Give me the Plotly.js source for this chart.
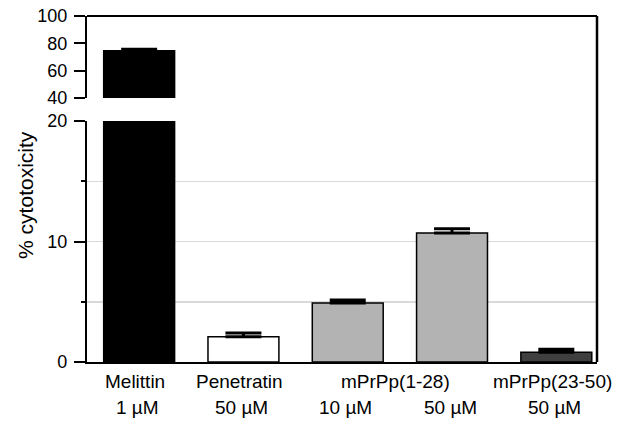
<!DOCTYPE html>
<html>
<head>
<meta charset="utf-8">
<script src="https://cdn.plot.ly/plotly-3.0.1.min.js"></script>
<style>
  html, body { margin: 0; padding: 0; background: #fff; }
  #chart { width: 638px; height: 427px; }
</style>
</head>
<body>
<div id="chart"></div>
<script>
// ---- data ----
var compounds = ['Melittin', 'Penetratin', 'mPrPp(1-28)', 'mPrPp(23-50)'];
var compoundBars = [[0], [1], [2, 3], [4]];
var concentrations = ['1 µM', '50 µM', '10 µM', '50 µM', '50 µM'];
var cytotoxicity = [74.5, 2.1, 4.9, 10.7, 0.8];
var errorUp = [1.2, 0.3, 0.25, 0.35, 0.25];
var barColors = ['#000000', '#ffffff', '#b3b3b3', '#b3b3b3', '#3f3f3f'];
var lowerTicks = [0, 10, 20];
var upperTicks = [40, 60, 80, 100];

var FONT = 'Arial, "Liberation Sans", sans-serif';
var xIdx = cytotoxicity.map(function (_, i) { return i; });
var zeros = cytotoxicity.map(function () { return 0; });

function barTrace(yaxis) {
  return {
    type: 'bar',
    x: xIdx,
    y: cytotoxicity,
    xaxis: 'x',
    yaxis: yaxis,
    width: 0.68,
    marker: { color: barColors, line: { color: '#000', width: 1.5 } },
    error_y: {
      type: 'data', symmetric: false, array: errorUp, arrayminus: zeros,
      color: '#000', thickness: 3, width: 18
    },
    hoverinfo: 'skip',
    showlegend: false
  };
}

var annotations = [];
compounds.forEach(function (name, k) {
  var idx = compoundBars[k];
  var xc = idx.reduce(function (a, b) { return a + b; }, 0) / idx.length;
  annotations.push({
    text: name, x: xc, xref: 'x', y: 0, yref: 'paper', yanchor: 'top',
    yshift: -7, xshift: -4, showarrow: false, font: { family: FONT, size: 19, color: '#000' }
  });
});
concentrations.forEach(function (c, i) {
  annotations.push({
    text: c, x: i, xref: 'x', y: 0, yref: 'paper', yanchor: 'top',
    yshift: -33, xshift: -2, showarrow: false, font: { family: FONT, size: 19, color: '#000' }
  });
});
annotations.push({
  text: '% cytotoxicity', textangle: -90, x: 0, xref: 'paper', xanchor: 'center', xshift: -61,
  y: 0.483, yref: 'paper', yanchor: 'middle', showarrow: false,
  font: { family: FONT, size: 21, color: '#000' }
});

var axisCommon = {
  showline: true, linecolor: '#000', linewidth: 2.2,
  ticks: 'outside', ticklen: 11, tickwidth: 2, tickcolor: '#000',
  ticklabelstandoff: 3,
  zeroline: false, tickfont: { family: FONT, size: 18, color: '#000' },
  anchor: 'x', fixedrange: true
};

var layout = {
  width: 638, height: 427,
  margin: { l: 87, r: 41, t: 16, b: 65 },
  paper_bgcolor: '#fff', plot_bgcolor: '#fff',
  bargap: 0,
  xaxis: {
    range: [-0.5, 4.39], showline: true, linecolor: '#000', linewidth: 2.2,
    showticklabels: false, ticks: '', showgrid: false, zeroline: false,
    anchor: 'y', fixedrange: true
  },
  yaxis: Object.assign({}, axisCommon, {
    domain: [0, 0.6965], range: [0, 20], tickvals: lowerTicks,
    showgrid: true, gridcolor: '#d9d9d9', gridwidth: 1.5,
    minor: { dtick: 5, ticks: 'outside', ticklen: 4, tickwidth: 2, tickcolor: '#000',
             showgrid: true, gridcolor: '#d9d9d9', gridwidth: 1.5 }
  }),
  yaxis2: Object.assign({}, axisCommon, {
    domain: [0.763, 1], range: [40, 100], tickvals: upperTicks, showgrid: false
  }),
  shapes: [
    { type: 'line', xref: 'paper', yref: 'paper', x0: 0, x1: 1, y0: 1, y1: 1,
      line: { color: '#000', width: 2 } },
    { type: 'line', xref: 'paper', yref: 'paper', x0: 1, x1: 1, y0: 0, y1: 1,
      line: { color: '#000', width: 2.5 } }
  ],
  annotations: annotations
};

Plotly.newPlot('chart', [barTrace('y'), barTrace('y2')], layout, { displayModeBar: false, staticPlot: true });
</script>
</body>
</html>
